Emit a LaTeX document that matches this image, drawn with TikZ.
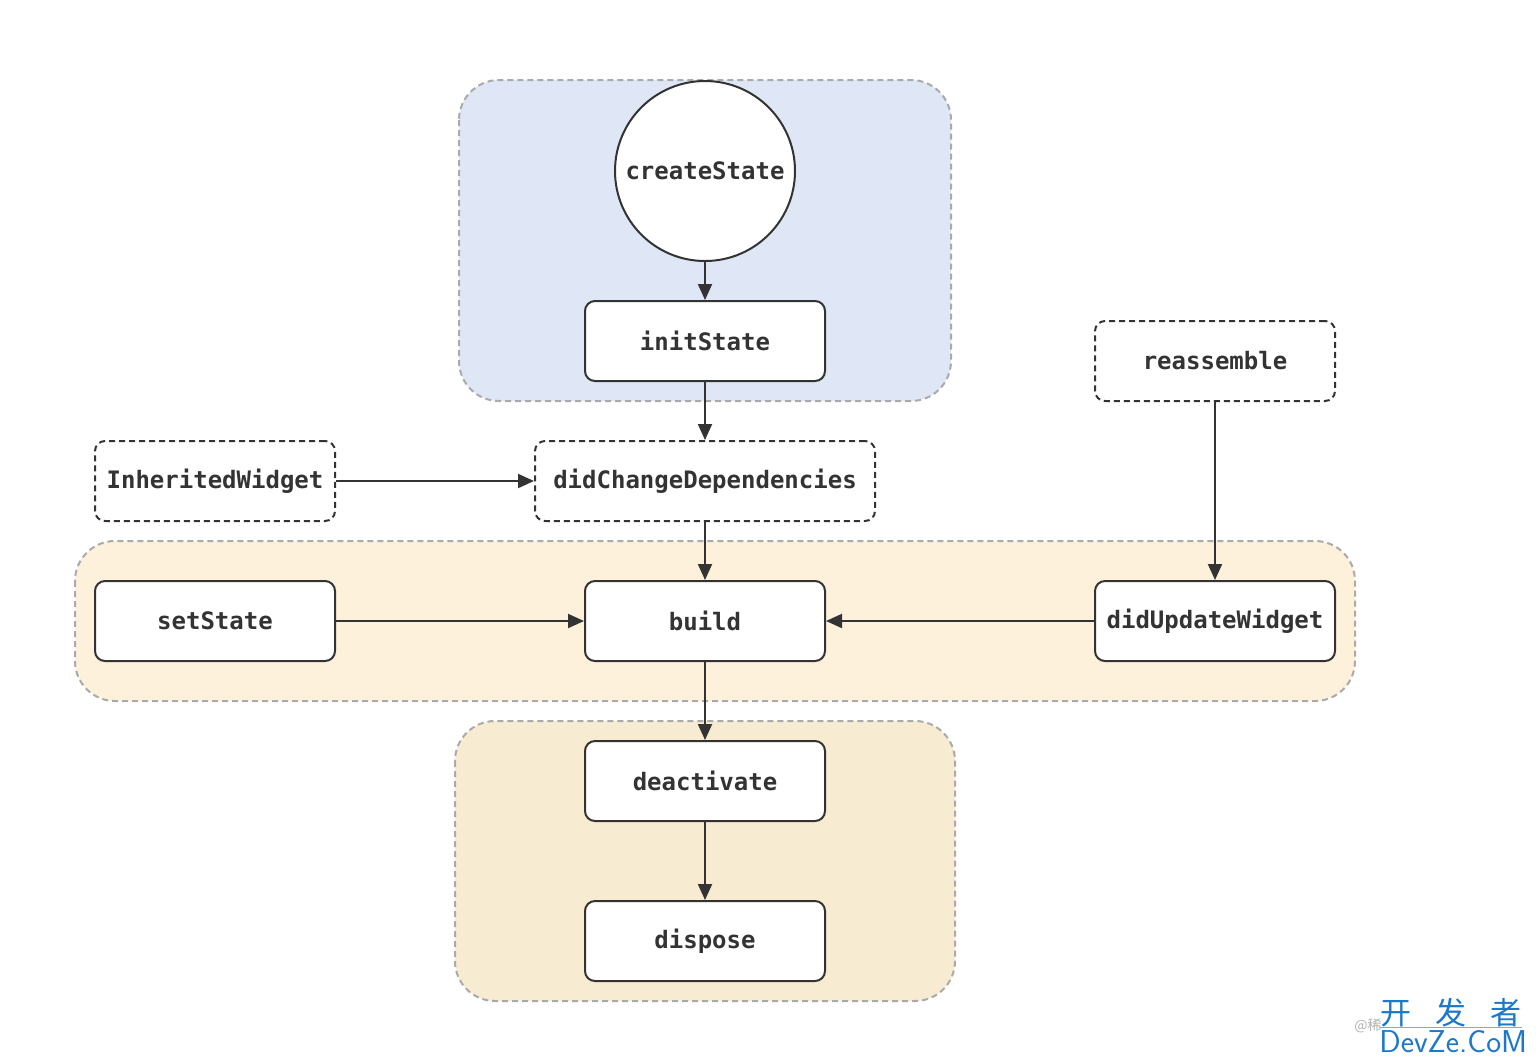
\documentclass[tikz,border=0pt]{standalone}
\usepackage{fontspec}
\setmonofont{DejaVu Sans Mono}
\newfontfamily\cjk{Noto Sans CJK SC}
\usetikzlibrary{arrows.meta}
\definecolor{ink}{HTML}{333333}
\definecolor{txt}{HTML}{333333}
\definecolor{bluegrp}{HTML}{DFE7F6}
\definecolor{orangegrp}{HTML}{FDF1DC}
\definecolor{beigegrp}{HTML}{F7EBD1}
\definecolor{grpline}{HTML}{AAAAAA}
\definecolor{wmblue}{HTML}{1E78C8}
\tikzset{
  grp/.style={draw=grpline, line width=1pt, dash pattern=on 3pt off 2pt, rounded corners=20pt},
  lbl/.style={font=\ttfamily\bfseries\fontsize{12}{13}\selectfont, text=txt},
  proc/.style={draw=ink, line width=1pt, fill=white, rounded corners=5pt, minimum width=120pt, minimum height=40pt, inner sep=0pt, lbl},
  dproc/.style={proc, dash pattern=on 3pt off 2pt},
  flow/.style={draw=ink, line width=1pt, -{Triangle[length=8pt,width=7pt]}},
}
\begin{document}
\begin{tikzpicture}[x=0.5pt,y=-0.5pt]
\useasboundingbox (0,0) rectangle (1536,1062);
\fill[white] (0,0) rectangle (1536,1062);
% groups
\path[grp, fill=bluegrp] (459,80) rectangle (951,401);
\path[grp, fill=orangegrp] (75,541) rectangle (1355,701);
\path[grp, fill=beigegrp] (455,721) rectangle (955,1001);
% nodes
\node[circle, draw=ink, line width=1pt, fill=white, minimum size=90pt, inner sep=0pt, lbl] (cs) at (705,171) {createState};
\node[proc] (init) at (705,341) {initState};
\node[dproc] (reas) at (1215,361) {reassemble};
\node[dproc] (inh) at (215,481) {InheritedWidget};
\node[dproc, minimum width=170pt] (dcd) at (705,481) {didChangeDependencies};
\node[proc] (set) at (215,621) {setState};
\node[proc] (build) at (705,621) {build};
\node[proc] (duw) at (1215,621) {didUpdateWidget};
\node[proc] (deact) at (705,781) {deactivate};
\node[proc] (disp) at (705,941) {dispose};
% connectors
\draw[flow] (cs) -- (init);
\draw[flow] (init) -- (dcd);
\draw[flow] (inh) -- (dcd);
\draw[flow] (dcd) -- (build);
\draw[flow] (set) -- (build);
\draw[flow] (duw) -- (build);
\draw[flow] (reas) -- (duw);
\draw[flow] (build) -- (deact);
\draw[flow] (deact) -- (disp);
% watermark
\node[anchor=east, text=gray!60, font=\cjk\fontsize{7}{8}\selectfont, inner sep=0pt] (wmat) at (1382,1026) {@稀};
\node[anchor=south west, text=wmblue, font=\cjk\fontsize{15.5}{17}\selectfont, inner sep=0pt] (wmcn) at (1380,1027) {开\hspace{12pt}发\hspace{12pt}者};
\node[anchor=north west, text=wmblue, font=\sffamily\fontsize{15.8}{17}\selectfont, inner sep=0pt] (wmen) at (1379,1030) {DevZe.CoM};
\draw[wmblue!60, line width=0.5pt] (wmcn.south west) -- (wmcn.south east);
\end{tikzpicture}
\end{document}
